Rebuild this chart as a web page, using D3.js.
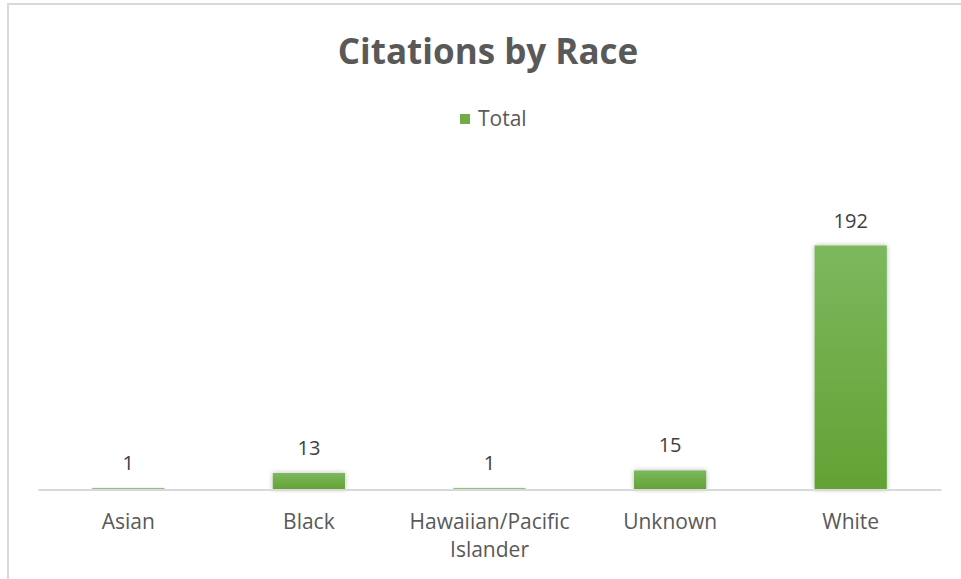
<!DOCTYPE html>
<html>
<head>
<meta charset="utf-8">
<script src="https://cdn.jsdelivr.net/npm/d3@7"></script>
<style>
  html, body { margin: 0; padding: 0; background: #fff; }
  svg { display: block; }
</style>
</head>
<body>
<svg id="chart" width="961" height="579"></svg>
<script>
// Citations per race category
const categories = ["Asian", "Black", "Hawaiian/Pacific Islander", "Unknown", "White"];
const totals = [1, 13, 1, 15, 192];
const seriesName = "Total";
const titleText = "Citations by Race";

const W = 961, H = 579;
const svg = d3.select("#chart");
const font = "'Open Sans', 'Noto Sans', sans-serif";

// Outer chart frame (extends past the right and bottom edges)
svg.append("rect")
  .attr("x", 8).attr("y", 4)
  .attr("width", W + 20).attr("height", H + 20)
  .attr("fill", "#fff")
  .attr("stroke", "#d9d9d9").attr("stroke-width", 2);

const defs = svg.append("defs");
const grad = defs.append("linearGradient")
  .attr("id", "barFill").attr("x1", 0).attr("y1", 0).attr("x2", 0).attr("y2", 1);
grad.append("stop").attr("offset", "0%").attr("stop-color", "#7db85e");
grad.append("stop").attr("offset", "100%").attr("stop-color", "#63a234");

const shadow = defs.append("filter").attr("id", "barShadow")
  .attr("x", "-20%").attr("y", "-20%").attr("width", "140%").attr("height", "140%");
shadow.append("feDropShadow")
  .attr("dx", 0).attr("dy", 0).attr("stdDeviation", 2.5)
  .attr("flood-color", "#000").attr("flood-opacity", 0.28);

const plot = { left: 38, right: 941, bottom: 489.5 };

const x = d3.scaleBand()
  .domain(categories)
  .range([plot.left, plot.right])
  .paddingInner(0.6)
  .paddingOuter(0.3);

const y = d3.scaleLinear()
  .domain([0, 250])
  .range([plot.bottom, plot.bottom - 317.7]);

// Title
svg.append("text")
  .attr("x", 488).attr("y", 64)
  .attr("text-anchor", "middle")
  .attr("font-family", font)
  .attr("font-weight", 700)
  .attr("font-size", 35)
  .attr("fill", "#595959")
  .text(titleText);

// Legend
const legend = svg.append("g").attr("transform", "translate(460,114)");
legend.append("rect")
  .attr("x", 0).attr("y", 0).attr("width", 10).attr("height", 10)
  .attr("fill", "#70ad47");
legend.append("text")
  .attr("x", 18).attr("y", 6)
  .attr("dominant-baseline", "middle")
  .attr("font-family", font)
  .attr("font-size", 21)
  .attr("fill", "#595959")
  .text(seriesName);

// Bars
const data = categories.map((c, i) => ({ cat: c, value: totals[i] }));

svg.append("g")
  .selectAll("rect")
  .data(data)
  .join("rect")
  .attr("x", d => x(d.cat))
  .attr("y", d => y(d.value))
  .attr("width", x.bandwidth())
  .attr("height", d => y(0) - y(d.value))
  .attr("fill", "url(#barFill)")
  .attr("filter", "url(#barShadow)");

// Category axis
const xAxis = d3.axisBottom(x).tickSize(0).tickPadding(0);
const axisG = svg.append("g")
  .attr("transform", `translate(0,${plot.bottom})`)
  .call(xAxis);
axisG.select(".domain")
  .attr("stroke", "#d9d9d9").attr("stroke-width", 2);
axisG.selectAll(".tick text").remove();

// Category labels, wrapped where needed
const wrapped = {
  "Hawaiian/Pacific Islander": ["Hawaiian/Pacific", "Islander"]
};
axisG.selectAll(".tick").each(function (d) {
  const lines = wrapped[d] || [d];
  const t = d3.select(this).append("text")
    .attr("text-anchor", "middle")
    .attr("font-family", font)
    .attr("font-size", 21)
    .attr("fill", "#595959");
  lines.forEach((ln, i) => {
    t.append("tspan").attr("x", 0).attr("y", 39 + i * 28).text(ln);
  });
});

// Value labels above bars
svg.append("g")
  .selectAll("text")
  .data(data)
  .join("text")
  .attr("x", d => x(d.cat) + x.bandwidth() / 2)
  .attr("y", d => y(d.value) - 18)
  .attr("text-anchor", "middle")
  .attr("font-family", font)
  .attr("font-size", 20)
  .attr("fill", "#404040")
  .text(d => d.value);
</script>
</body>
</html>
